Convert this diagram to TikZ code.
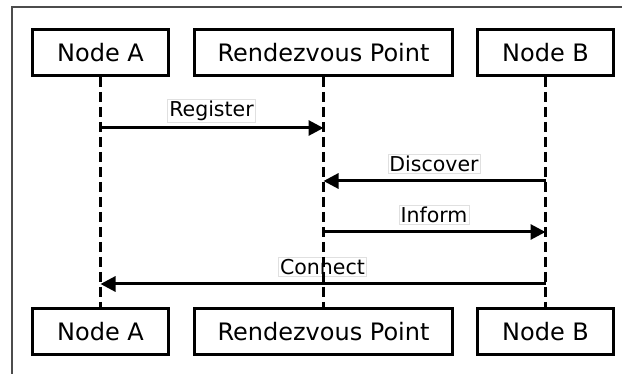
\documentclass[tikz,border=0pt]{standalone}
\usepackage{fontspec}
\setmainfont{DejaVu Sans}
\usetikzlibrary{arrows.meta}
\begin{document}
\begin{tikzpicture}[x=1pt,y=-1pt,
  actor/.style={draw=black,line width=3pt,minimum width=136pt,minimum height=46pt,
    inner sep=0pt,font=\fontsize{24}{28}\selectfont},
  wideactor/.style={actor,minimum width=258pt},
  life/.style={line width=3pt,dash pattern=on 10pt off 5pt},
  msg/.style={line width=3pt,-{Triangle[length=15pt,width=15pt]}},
  msglabel/.style={fill=white,draw=black!12,line width=0.6pt,inner sep=1.5pt,
    font=\fontsize{20.5}{24}\selectfont}]
\useasboundingbox (0,0) rectangle (622,374);
% open frame: top and left edges only
\draw[black!70,line width=1.3pt] (12,374) -- (12,7) -- (622,7);

% participants, top and bottom
\node[actor]     (topA) at (100.5,52.5) {Node A};
\node[wideactor] (topR) at (323.5,52.5) {Rendezvous Point};
\node[actor]     (topB) at (545.5,52.5) {Node B};
\node[actor]     (botA) at (100.5,332)  {Node A};
\node[wideactor] (botR) at (323.5,332)  {Rendezvous Point};
\node[actor]     (botB) at (545.5,332)  {Node B};

% message labels
\node[msglabel] (lReg)  at (211.5,111) {Register};
\node[msglabel] (lDisc) at (434,163.5) {Discover};
\node[msglabel] (lInf)  at (434,215)   {Inform};
\node[msglabel] (lCon)  at (322.5,267) {Connect};

% lifelines
\draw[life] (topA) -- (botA);
\draw[life] (topR) -- (botR);
\draw[life] (topB) -- (botB);

% messages
\draw[msg] (topA.south |- 0,128) -- (topR.south |- 0,128);
\draw[msg] (topB.south |- 0,181) -- (topR.south |- 0,181);
\draw[msg] (topR.south |- 0,232) -- (topB.south |- 0,232);
\draw[msg] (topB.south |- 0,284) -- (topA.south |- 0,284);
\end{tikzpicture}
\end{document}
